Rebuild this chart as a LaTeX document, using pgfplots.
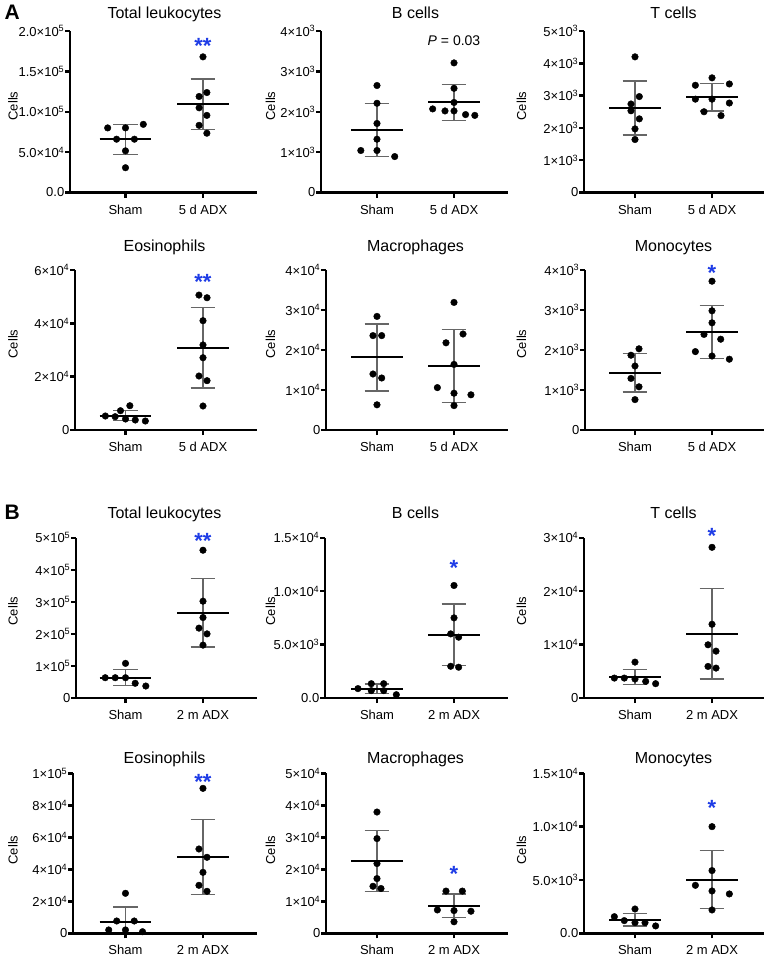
\documentclass[border=0pt]{standalone}
\usepackage{pgfplots}
\pgfplotsset{compat=1.18}
\usepackage{fontspec}
\setmainfont{Liberation Sans}
\definecolor{starblue}{RGB}{30,60,230}
\newcommand{\tp}[2]{#1×10\textsuperscript{#2}}
\pgfplotsset{
  panel/.style={
    scale only axis, anchor=south west,
    axis x line*=bottom, axis y line*=left,
    axis line style={line width=2.4pt, black},
    tick style={line width=2.4pt, black},
    tick align=outside, major tick length=5pt,
    clip=false, ymin=0, xtick={0,1},
    scaled y ticks=false, unbounded coords=jump,
    tick label style={font=\fontsize{13}{15}\selectfont},
    yticklabel style={inner xsep=0.5pt},
    xticklabel style={anchor=base, yshift=-16.5pt},
  },
  dots/.style={only marks, mark=*, mark size=3.3pt, black},
  sd/.style={black!60, line width=1.3pt, mark=none},
  mn/.style={black, line width=2pt, mark=none},
}
\tikzset{
  sigstar/.style={text=starblue, font=\bfseries\fontsize{22}{22}\selectfont, anchor=base, yshift=-12.5pt},
  ttl/.style={font=\fontsize{16}{19}\selectfont, anchor=base},
  ylab/.style={font=\fontsize{13}{15}\selectfont, rotate=90, anchor=center},
  plab/.style={font=\bfseries\fontsize{21}{23}\selectfont, anchor=base west},
}
\begin{document}
\begin{tikzpicture}
\path[use as bounding box] (0,0) rectangle (769pt,-966pt);
% panel letters
\node[plab] at (1pt,-19.5pt) {A};
\node[plab] at (1pt,-519pt) {B};
% titles
\node[ttl] at (164.5pt,-18.7pt) {Total leukocytes};
\node[ttl] at (415.5pt,-18.7pt) {B cells};
\node[ttl] at (673.5pt,-18.7pt) {T cells};
\node[ttl] at (164.5pt,-251.2pt) {Eosinophils};
\node[ttl] at (415.5pt,-251.2pt) {Macrophages};
\node[ttl] at (673.5pt,-251.2pt) {Monocytes};
\node[ttl] at (164.5pt,-518.4pt) {Total leukocytes};
\node[ttl] at (415.5pt,-518.4pt) {B cells};
\node[ttl] at (673.5pt,-518.4pt) {T cells};
\node[ttl] at (164.5pt,-763.7pt) {Eosinophils};
\node[ttl] at (415.5pt,-763.7pt) {Macrophages};
\node[ttl] at (673.5pt,-763.7pt) {Monocytes};
% y labels
\foreach \yy in {106,344,611,850}{
  \node[ylab] at (13pt,-\yy pt) {Cells};
  \node[ylab] at (270.5pt,-\yy pt) {Cells};
  \node[ylab] at (521.5pt,-\yy pt) {Cells};
}
\node[font=\fontsize{14}{16}\selectfont, anchor=base] at (454pt,-46pt) {\textit{P} = 0.03};

% ---------- A1 Total leukocytes
\begin{axis}[panel, at={(70pt,-192.5pt)}, width=187pt, height=161.5pt, xmin=-0.716, xmax=1.697,
  ymax=200000, ytick={0,50000,100000,150000,200000},
  yticklabels={0.0,\tp{5.0}{4},\tp{1.0}{5},\tp{1.5}{5},\tp{2.0}{5}}, xticklabels={Sham,5 d ADX}]
\addplot[sd] coordinates {(0,84600)(0,47400) (nan,nan) (-0.16,84600)(0.16,84600) (nan,nan) (-0.16,47400)(0.16,47400) (nan,nan)
  (1,140600)(1,78300) (nan,nan) (0.84,140600)(1.16,140600) (nan,nan) (0.84,78300)(1.16,78300)};
\addplot[mn] coordinates {(-0.335,66000)(0.335,66000) (nan,nan) (0.665,109400)(1.335,109400)};
\addplot[dots] coordinates {(-0.23,80000)(0,80000)(0.23,84400)(-0.115,66000)(0.115,66000)(0,51600)(0,30700)
  (1,168000)(1.05,123800)(0.95,118900)(0.95,104900)(1.05,95500)(0.95,83200)(1.05,73400)};
\node[sigstar] at (axis cs:1,187000) {**};
\end{axis}

% ---------- A2 B cells
\begin{axis}[panel, at={(321pt,-192.5pt)}, width=187pt, height=161.5pt, xmin=-0.727, xmax=1.701,
  ymax=4000, ytick={0,1000,2000,3000,4000},
  yticklabels={0,\tp{1}{3},\tp{2}{3},\tp{3}{3},\tp{4}{3}}, xticklabels={Sham,5 d ADX}]
\addplot[sd] coordinates {(0,2210)(0,890) (nan,nan) (-0.16,2210)(0.16,2210) (nan,nan) (-0.16,890)(0.16,890) (nan,nan)
  (1,2680)(1,1790) (nan,nan) (0.84,2680)(1.16,2680) (nan,nan) (0.84,1790)(1.16,1790)};
\addplot[mn] coordinates {(-0.335,1560)(0.335,1560) (nan,nan) (0.665,2250)(1.335,2250)};
\addplot[dots] coordinates {(0,2650)(0,2210)(0,1710)(0,1320)(-0.21,1040)(0,1040)(0.23,890)
  (1,3210)(1,2580)(1,2230)(0.723,2070)(0.883,2020)(1,2020)(1.15,1930)(1.27,1910)};
\end{axis}

% ---------- A3 T cells
\begin{axis}[panel, at={(584pt,-192.5pt)}, width=180pt, height=161.5pt, xmin=-0.662, xmax=1.675,
  ymax=5000, ytick={0,1000,2000,3000,4000,5000},
  yticklabels={0,\tp{1}{3},\tp{2}{3},\tp{3}{3},\tp{4}{3},\tp{5}{3}}, xticklabels={Sham,5 d ADX}]
\addplot[sd] coordinates {(0,3450)(0,1780) (nan,nan) (-0.16,3450)(0.16,3450) (nan,nan) (-0.16,1780)(0.16,1780) (nan,nan)
  (1,3370)(1,2520) (nan,nan) (0.84,3370)(1.16,3370) (nan,nan) (0.84,2520)(1.16,2520)};
\addplot[mn] coordinates {(-0.335,2630)(0.335,2630) (nan,nan) (0.665,2950)(1.335,2950)};
\addplot[dots] coordinates {(0,4200)(0.056,2970)(-0.052,2740)(-0.052,2530)(0.056,2280)(0,1970)(0,1640)
  (1,3550)(0.784,3320)(1.225,3360)(0.784,2890)(1,2890)(1.225,2770)(0.896,2500)(1.117,2380)};
\end{axis}

% ---------- A4 Eosinophils
\begin{axis}[panel, at={(75pt,-430pt)}, width=182pt, height=160pt, xmin=-0.652, xmax=1.697,
  ymax=60000, ytick={0,20000,40000,60000},
  yticklabels={0,\tp{2}{4},\tp{4}{4},\tp{6}{4}}, xticklabels={Sham,5 d ADX}]
\addplot[sd] coordinates {(0,7300)(0,3500) (nan,nan) (-0.16,7300)(0.16,7300) (nan,nan) (-0.16,3500)(0.16,3500) (nan,nan)
  (1,46000)(1,15800) (nan,nan) (0.84,46000)(1.16,46000) (nan,nan) (0.84,15800)(1.16,15800)};
\addplot[mn] coordinates {(-0.335,5400)(0.335,5400) (nan,nan) (0.665,30900)(1.335,30900)};
\addplot[dots] coordinates {(-0.26,5250)(-0.134,4990)(-0.065,7240)(0.056,9110)(0,4125)(0.126,3750)(0.256,3375)
  (0.948,50600)(1.052,49600)(1,41000)(1,31900)(1,27100)(0.948,20250)(1.052,18500)(1,9000)};
\node[sigstar] at (axis cs:1,57250) {**};
\end{axis}

% ---------- A5 Macrophages
\begin{axis}[panel, at={(326pt,-430pt)}, width=182pt, height=160pt, xmin=-0.662, xmax=1.701,
  ymax=40000, ytick={0,10000,20000,30000,40000},
  yticklabels={0,\tp{1}{4},\tp{2}{4},\tp{3}{4},\tp{4}{4}}, xticklabels={Sham,5 d ADX}]
\addplot[sd] coordinates {(0,26500)(0,9750) (nan,nan) (-0.16,26500)(0.16,26500) (nan,nan) (-0.16,9750)(0.16,9750) (nan,nan)
  (1,25200)(1,6900) (nan,nan) (0.84,25200)(1.16,25200) (nan,nan) (0.84,6900)(1.16,6900)};
\addplot[mn] coordinates {(-0.335,18200)(0.335,18200) (nan,nan) (0.665,16100)(1.335,16100)};
\addplot[dots] coordinates {(0,28400)(-0.052,23600)(0.061,23600)(-0.052,14000)(0.061,13000)(0,6300)
  (1,31900)(1.117,24000)(0.896,21800)(1,16400)(0.784,10600)(1,9200)(1.22,8800)(1,6100)};
\end{axis}

% ---------- A6 Monocytes
\begin{axis}[panel, at={(585pt,-430pt)}, width=179pt, height=160pt, xmin=-0.649, xmax=1.675,
  ymax=4000, ytick={0,1000,2000,3000,4000},
  yticklabels={0,\tp{1}{3},\tp{2}{3},\tp{3}{3},\tp{4}{3}}, xticklabels={Sham,5 d ADX}]
\addplot[sd] coordinates {(0,1910)(0,950) (nan,nan) (-0.16,1910)(0.16,1910) (nan,nan) (-0.16,950)(0.16,950) (nan,nan)
  (1,3110)(1,1790) (nan,nan) (0.84,3110)(1.16,3110) (nan,nan) (0.84,1790)(1.16,1790)};
\addplot[mn] coordinates {(-0.335,1430)(0.335,1430) (nan,nan) (0.665,2440)(1.335,2440)};
\addplot[dots] coordinates {(0.052,2030)(-0.052,1870)(0,1600)(-0.052,1290)(0.052,1080)(0,760)
  (1,3720)(1,2980)(1,2680)(0.896,2390)(1.113,2270)(0.784,1960)(1,1850)(1.225,1770)};
\node[sigstar] at (axis cs:1,4060) {*};
\end{axis}

% ---------- B1 Total leukocytes
\begin{axis}[panel, at={(76pt,-698pt)}, width=181pt, height=160.3pt, xmin=-0.639, xmax=1.697,
  ymax=500000, ytick={0,100000,200000,300000,400000,500000},
  yticklabels={0,\tp{1}{5},\tp{2}{5},\tp{3}{5},\tp{4}{5},\tp{5}{5}}, xticklabels={Sham,2 m ADX}]
\addplot[sd] coordinates {(0,89500)(0,38400) (nan,nan) (-0.16,89500)(0.16,89500) (nan,nan) (-0.16,38400)(0.16,38400) (nan,nan)
  (1,372000)(1,159000) (nan,nan) (0.84,372000)(1.16,372000) (nan,nan) (0.84,159000)(1.16,159000)};
\addplot[mn] coordinates {(-0.335,63500)(0.335,63500) (nan,nan) (0.665,265000)(1.335,265000)};
\addplot[dots] coordinates {(0,108000)(-0.262,63300)(-0.133,63300)(0,63300)(0.125,45900)(0.262,37400)
  (1,461000)(1,302000)(1,251000)(0.948,218000)(1.052,200000)(1,165000)};
\node[sigstar] at (axis cs:1,506000) {**};
\end{axis}

% ---------- B2 B cells
\begin{axis}[panel, at={(325pt,-698pt)}, width=183pt, height=160.3pt, xmin=-0.675, xmax=1.701,
  ymax=15000, ytick={0,5000,10000,15000},
  yticklabels={0.0,\tp{5.0}{3},\tp{1.0}{4},\tp{1.5}{4}}, xticklabels={Sham,2 m ADX}]
\addplot[sd] coordinates {(0,1310)(0,440) (nan,nan) (-0.16,1310)(0.16,1310) (nan,nan) (-0.16,440)(0.16,440) (nan,nan)
  (1,8810)(1,3060) (nan,nan) (0.84,8810)(1.16,8810) (nan,nan) (0.84,3060)(1.16,3060)};
\addplot[mn] coordinates {(-0.335,875)(0.335,875) (nan,nan) (0.665,5940)(1.335,5940)};
\addplot[dots] coordinates {(-0.247,880)(-0.074,1340)(0.087,1340)(-0.074,690)(0.087,690)(0.251,310)
  (1,10530)(1,7500)(0.957,6000)(1.06,5690)(0.957,2970)(1.06,2880)};
\node[sigstar] at (axis cs:1,12660) {*};
\end{axis}

% ---------- B3 T cells
\begin{axis}[panel, at={(584pt,-698pt)}, width=180pt, height=160.3pt, xmin=-0.662, xmax=1.675,
  ymax=30000, ytick={0,10000,20000,30000},
  yticklabels={0,\tp{1}{4},\tp{2}{4},\tp{3}{4}}, xticklabels={Sham,2 m ADX}]
\addplot[sd] coordinates {(0,5290)(0,2490) (nan,nan) (-0.16,5290)(0.16,5290) (nan,nan) (-0.16,2490)(0.16,2490) (nan,nan)
  (1,20500)(1,3550) (nan,nan) (0.84,20500)(1.16,20500) (nan,nan) (0.84,3550)(1.16,3550)};
\addplot[mn] coordinates {(-0.335,3920)(0.335,3920) (nan,nan) (0.665,12000)(1.335,12000)};
\addplot[dots] coordinates {(0,6720)(-0.268,3730)(-0.139,3730)(0,3550)(0.139,3110)(0.268,2680)
  (1,28200)(1,13800)(0.948,9960)(1.052,8770)(0.948,5910)(1.052,5600)};
\node[sigstar] at (axis cs:1,31200) {*};
\end{axis}

% ---------- B4 Eosinophils
\begin{axis}[panel, at={(73pt,-933.3pt)}, width=184pt, height=160pt, xmin=-0.677, xmax=1.697,
  ymax=100000, ytick={0,20000,40000,60000,80000,100000},
  yticklabels={0,\tp{2}{4},\tp{4}{4},\tp{6}{4},\tp{8}{4},\tp{1}{5}}, xticklabels={Sham,2 m ADX}]
\addplot[sd] coordinates {(0,16500)(0,0) (nan,nan) (-0.16,16500)(0.16,16500) (nan,nan)
  (1,71000)(1,24400) (nan,nan) (0.84,71000)(1.16,71000) (nan,nan) (0.84,24400)(1.16,24400)};
\addplot[mn] coordinates {(-0.335,7300)(0.335,7300) (nan,nan) (0.665,47700)(1.335,47700)};
\addplot[dots] coordinates {(0,25000)(-0.113,7700)(0.113,7700)(-0.216,2100)(0,2100)(0.22,1000)
  (1,90600)(0.948,52700)(1.052,47500)(1,38100)(0.948,30000)(1.052,26250)};
\node[sigstar] at (axis cs:1,97900) {**};
\end{axis}

% ---------- B5 Macrophages
\begin{axis}[panel, at={(326pt,-933.3pt)}, width=182pt, height=160pt, xmin=-0.662, xmax=1.701,
  ymax=50000, ytick={0,10000,20000,30000,40000,50000},
  yticklabels={0,\tp{1}{4},\tp{2}{4},\tp{3}{4},\tp{4}{4},\tp{5}{4}}, xticklabels={Sham,2 m ADX}]
\addplot[sd] coordinates {(0,32100)(0,13000) (nan,nan) (-0.16,32100)(0.16,32100) (nan,nan) (-0.16,13000)(0.16,13000) (nan,nan)
  (1,12300)(1,4900) (nan,nan) (0.84,12300)(1.16,12300) (nan,nan) (0.84,4900)(1.16,4900)};
\addplot[mn] coordinates {(-0.335,22500)(0.335,22500) (nan,nan) (0.665,8650)(1.335,8650)};
\addplot[dots] coordinates {(0,37900)(0,29600)(0,21800)(0,17100)(-0.052,14700)(0.052,14000)
  (0.896,13200)(1.108,13200)(0.784,7300)(1,7100)(1.22,6900)(1,3600)};
\node[sigstar] at (axis cs:1,20000) {*};
\end{axis}

% ---------- B6 Monocytes
\begin{axis}[panel, at={(584pt,-933.3pt)}, width=180pt, height=160pt, xmin=-0.662, xmax=1.675,
  ymax=15000, ytick={0,5000,10000,15000},
  yticklabels={0.0,\tp{5.0}{3},\tp{1.0}{4},\tp{1.5}{4}}, xticklabels={Sham,2 m ADX}]
\addplot[sd] coordinates {(0,1840)(0,690) (nan,nan) (-0.16,1840)(0.16,1840) (nan,nan) (-0.16,690)(0.16,690) (nan,nan)
  (1,7780)(1,2340) (nan,nan) (0.84,7780)(1.16,7780) (nan,nan) (0.84,2340)(1.16,2340)};
\addplot[mn] coordinates {(-0.335,1280)(0.335,1280) (nan,nan) (0.665,5030)(1.335,5030)};
\addplot[dots] coordinates {(0,2280)(-0.268,1560)(-0.139,1190)(0,1000)(0.13,1000)(0.268,690)
  (1,10000)(1,5880)(0.784,4500)(1,3970)(1.225,3690)(1,2190)};
\node[sigstar] at (axis cs:1,12190) {*};
\end{axis}
\end{tikzpicture}
\end{document}
